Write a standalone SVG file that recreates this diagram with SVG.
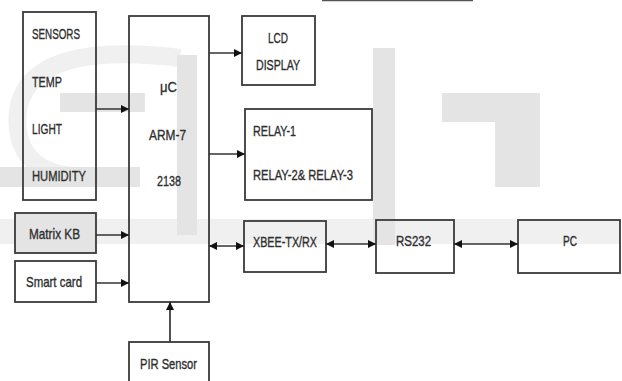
<svg xmlns="http://www.w3.org/2000/svg" width="622" height="381" viewBox="0 0 622 381">
<defs>
<style>
.box{fill:none;stroke:#3a3a3a;stroke-width:1.8}
.t{font-family:"Liberation Sans",Arial,sans-serif;font-size:15px;fill:#2e2e2e;stroke:#2e2e2e;stroke-width:0.35}
.w{fill:#e4e4e4}
.conn path{stroke:#333;stroke-width:1.7;fill:none}
</style>
<marker id="ah" viewBox="0 0 8 8" refX="8" refY="4" markerWidth="8" markerHeight="8" markerUnits="userSpaceOnUse" orient="auto-start-reverse">
<path d="M0,0 L8,4 L0,8 z" fill="#111"/>
</marker>
</defs>
<rect width="622" height="381" fill="#fff"/>
<g id="watermark">
<rect class="w" x="0" y="219" width="620" height="25" fill-opacity="0.55"/>
<path d="M180 58 Q30 40 18 110 Q12 168 70 176" fill="none" stroke="#f0f0f0" stroke-width="18"/>
<rect class="w" x="60" y="93" width="85" height="19"/>
<rect class="w" x="177" y="55" width="20" height="180"/>
<rect class="w" x="0" y="167" width="140" height="20"/>
<rect class="w" x="373" y="48" width="22" height="197"/>
<rect class="w" x="442" y="93" width="98" height="29"/>
<rect class="w" x="495" y="93" width="45" height="94"/>
<rect class="w" x="15" y="213" width="81" height="40"/>
</g>
<line x1="322" y1="0.5" x2="473" y2="0.5" stroke="#555" stroke-width="1.5"/>
<g id="sensors">
<rect class="box" x="23" y="12" width="73" height="188"/>
<text class="t" x="32" y="39" textLength="48" lengthAdjust="spacingAndGlyphs">SENSORS</text>
<text class="t" x="32" y="87" textLength="30" lengthAdjust="spacingAndGlyphs">TEMP</text>
<text class="t" x="32" y="134" textLength="30" lengthAdjust="spacingAndGlyphs">LIGHT</text>
<text class="t" x="32" y="181" textLength="54" lengthAdjust="spacingAndGlyphs">HUMIDITY</text>
</g>
<g id="uc">
<rect class="box" x="129" y="16" width="80" height="286"/>
<text class="t" x="160" y="92" textLength="17" lengthAdjust="spacingAndGlyphs">μC</text>
<text class="t" x="149" y="140" textLength="37" lengthAdjust="spacingAndGlyphs">ARM-7</text>
<text class="t" x="157" y="186" textLength="24" lengthAdjust="spacingAndGlyphs">2138</text>
</g>
<g id="lcd">
<rect class="box" x="242" y="16" width="73" height="69"/>
<text class="t" x="268" y="43" textLength="20" lengthAdjust="spacingAndGlyphs">LCD</text>
<text class="t" x="256" y="70" textLength="44" lengthAdjust="spacingAndGlyphs">DISPLAY</text>
</g>
<g id="relay">
<rect class="box" x="245" y="109" width="127" height="91"/>
<text class="t" x="253" y="136" textLength="43" lengthAdjust="spacingAndGlyphs">RELAY-1</text>
<text class="t" x="253" y="180" textLength="100" lengthAdjust="spacingAndGlyphs">RELAY-2&amp; RELAY-3</text>
</g>
<g id="matrixkb">
<rect class="box" x="15" y="213" width="81" height="40"/>
<text class="t" x="29" y="239" textLength="51" lengthAdjust="spacingAndGlyphs">Matrix KB</text>
</g>
<g id="smartcard">
<rect class="box" x="15" y="261" width="81" height="41"/>
<text class="t" x="26" y="287" textLength="56" lengthAdjust="spacingAndGlyphs">Smart card</text>
</g>
<g id="pir">
<rect class="box" x="129" y="342" width="80" height="45"/>
<text class="t" x="140" y="369" textLength="57" lengthAdjust="spacingAndGlyphs">PIR Sensor</text>
</g>
<g id="xbee">
<rect class="box" x="244" y="221" width="82" height="51"/>
<text class="t" x="253" y="247" textLength="64" lengthAdjust="spacingAndGlyphs">XBEE-TX/RX</text>
</g>
<g id="rs232">
<rect class="box" x="376" y="220" width="78" height="53"/>
<text class="t" x="396" y="246" textLength="35" lengthAdjust="spacingAndGlyphs">RS232</text>
</g>
<g id="pc">
<rect class="box" x="518" y="220" width="102" height="53"/>
<text class="t" x="563" y="246" textLength="14" lengthAdjust="spacingAndGlyphs">PC</text>
</g>
<g id="connectors" class="conn">
<path d="M96 109 H129" marker-end="url(#ah)"/>
<path d="M209 53 H242" marker-end="url(#ah)"/>
<path d="M209 154 H245" marker-end="url(#ah)"/>
<path d="M96 235 H129" marker-end="url(#ah)"/>
<path d="M96 283 H129" marker-end="url(#ah)"/>
<path d="M170 342 V302" marker-end="url(#ah)"/>
<path d="M209 246 H244" marker-start="url(#ah)" marker-end="url(#ah)"/>
<path d="M326 244 H376" marker-start="url(#ah)" marker-end="url(#ah)"/>
<path d="M454 244 H518" marker-start="url(#ah)" marker-end="url(#ah)"/>
</g>
</svg>
